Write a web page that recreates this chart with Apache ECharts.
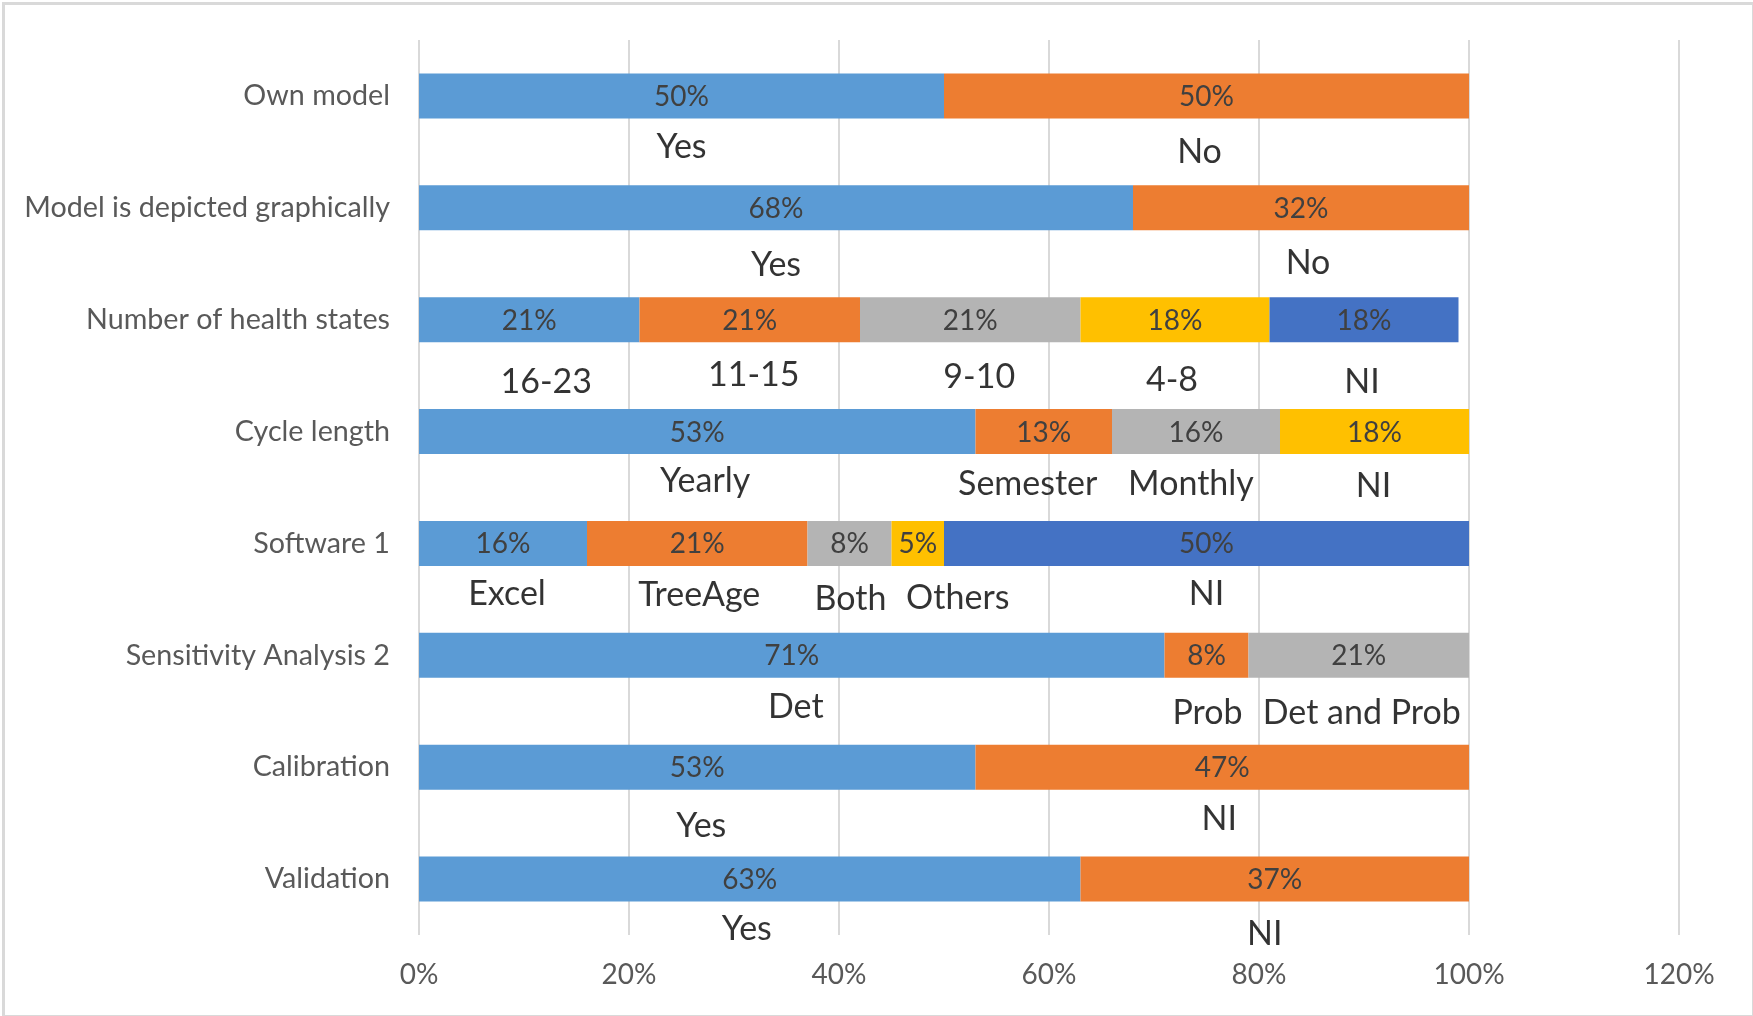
<!DOCTYPE html>
<html>
<head>
<meta charset="utf-8">
<script src="https://cdn.jsdelivr.net/npm/echarts@6/dist/echarts.min.js"></script>
<style>
  html, body { margin: 0; padding: 0; background: #fff; }
  #chart { width: 1753px; height: 1016px; }
</style>
</head>
<body>
<div id="chart"></div>
<script>
// ---------- DATA ----------
const categories = ['Own model', 'Model is depicted graphically', 'Number of health states', 'Cycle length', 'Software 1', 'Sensitivity Analysis 2', 'Calibration', 'Validation'];

const seg1 = [50, 68, 21, 53, 16, 71, 53, 63];
const seg2 = [50, 32, 21, 13, 21, 8, 47, 37];
const seg3 = [null, null, 21, 16, 8, 21, null, null];
const seg4 = [null, null, 18, 18, 5, null, null, null];
const seg5 = [null, null, 18, null, 50, null, null, null];

const name1 = ['Yes', 'Yes', '16-23', 'Yearly', 'Excel', 'Det', 'Yes', 'Yes'];
const name2 = ['No', 'No', '11-15', 'Semester', 'TreeAge', 'Prob', 'NI', 'NI'];
const name3 = [null, null, '9-10', 'Monthly', 'Both', 'Det and Prob', null, null];
const name4 = [null, null, '4-8', 'NI', 'Others', null, null, null];
const name5 = [null, null, 'NI', null, 'NI', null, null, null];

const xTicks = [0, 20, 40, 60, 80, 100, 120];

// ---------- STYLE ----------
const segColors = ['#5B9BD5', '#ED7D31', '#B4B4B4', '#FFC000', '#4472C4'];
const FONT = 'Lato';
// per-annotation label offsets [dx, dy] (pixels), by segment then category
const annOffsets = [
  [[0, 51], [0, 57], [17, 62], [8, 49], [4, 51], [4, 52], [4, 59], [-3, 50]],
  [[-7, 56], [7, 55], [4, 55], [-16, 52], [2, 52], [1, 58], [-3, 52], [-10, 55]],
  [null, null, [9, 57], [-5, 52], [1, 56], [3, 58], null, null],
  [null, null, [-3, 60], [-1, 54], [40, 55], null, null, null],
  [null, null, [-2, 62], null, [0, 51], null, null, null]
];

const segs = [seg1, seg2, seg3, seg4, seg5];
const names = [name1, name2, name3, name4, name5];

const barSeries = segs.map((s, k) => ({
  type: 'bar',
  name: 'S' + (k + 1),
  stack: 'total',
  data: s,
  barWidth: 45,
  itemStyle: { color: segColors[k] },
  label: {
    show: true,
    position: 'inside',
    offset: [0, 1],
    formatter: p => (p.value == null ? '' : p.value + '%'),
    color: '#404040',
    fontFamily: FONT,
    fontSize: 28
  },
  z: 2
}));

// annotation labels at segment centers (computed from the stacked data)
const annData = [];
categories.forEach((c, i) => {
  let cum = 0;
  segs.forEach((s, k) => {
    const v = s[i];
    if (v == null) return;
    const off = annOffsets[k][i] || [0, 54];
    annData.push({
      value: [cum + v / 2, c],
      label: { formatter: names[k][i], offset: off }
    });
    cum += v;
  });
});

const chart = echarts.init(document.getElementById('chart'), null, { renderer: 'canvas' });
chart.setOption({
  animation: false,
  backgroundColor: '#ffffff',
  grid: { left: 419, right: 74, top: 40, bottom: 81, containLabel: false },
  xAxis: {
    type: 'value',
    min: 0,
    max: 120,
    interval: 20,
    axisLine: { show: false },
    axisTick: { show: false },
    splitLine: { show: true, lineStyle: { color: '#D9D9D9', width: 2 } },
    axisLabel: {
      formatter: v => (xTicks.indexOf(v) >= 0 ? v + '%' : ''),
      color: '#595959',
      fontFamily: FONT,
      fontSize: 28,
      margin: 26
    }
  },
  yAxis: {
    type: 'category',
    data: categories,
    inverse: true,
    axisLine: { show: false },
    axisTick: { show: false },
    splitLine: { show: false },
    axisLabel: {
      color: '#595959',
      fontFamily: FONT,
      fontSize: 28.7,
      margin: 29
    }
  },
  series: barSeries.concat([{
    type: 'scatter',
    name: 'annotations',
    data: annData,
    symbolSize: 0,
    silent: true,
    z: 5,
    label: {
      show: true,
      position: 'inside',
      color: '#000000',
      fontFamily: FONT,
      fontSize: 34
    }
  }]),
  graphic: [{
    type: 'rect',
    left: 1,
    top: 1,
    shape: { width: 1750, height: 1013 },
    style: { fill: 'none', stroke: '#D9D9D9', lineWidth: 3 },
    silent: true
  }]
});
</script>
</body>
</html>
